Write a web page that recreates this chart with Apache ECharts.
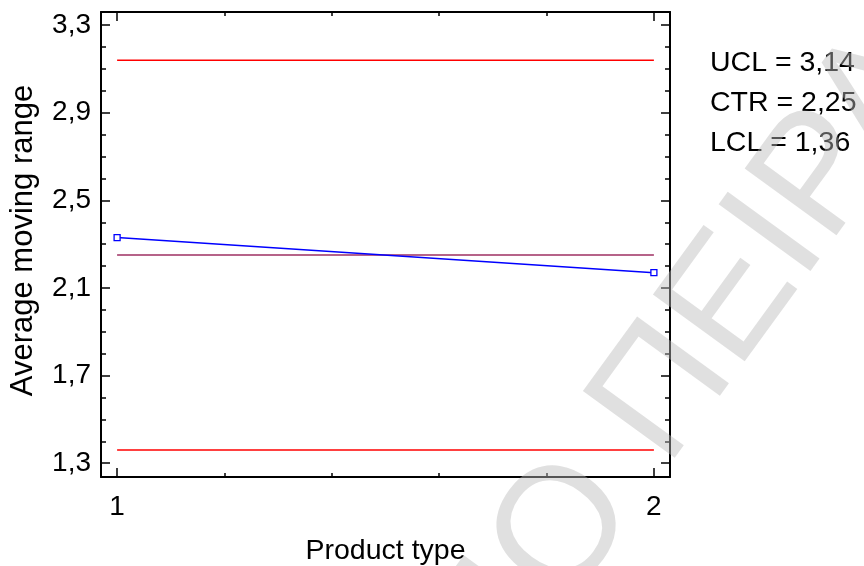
<!DOCTYPE html>
<html>
<head>
<meta charset="utf-8">
<script src="https://cdn.jsdelivr.net/npm/echarts@6/dist/echarts.min.js"></script>
<style>
  html, body { margin: 0; padding: 0; background: #fff; }
  #chart { width: 864px; height: 566px; }
</style>
</head>
<body>
<div id="chart"></div>
<script>
// Product types on the x axis and their average moving ranges
const productTypes = [1, 2];
const avgMovingRange = [2.33, 2.17];

// Control limits
const limitNames = ['UCL', 'CTR', 'LCL'];
const limitValues = [3.14, 2.25, 1.36];

// Tick labels
const xTickLabels = [1, 2];
const yTickLabels = [1.3, 1.7, 2.1, 2.5, 2.9, 3.3];

const FONT = '"Liberation Sans", Arial, sans-serif';
const fmt = v => v.toFixed(2).replace('.', ',');

// minor tick positions between the labelled ticks
const xMinor = [];
for (let i = 1; i < 5; i++) xMinor.push(+(1 + i * 0.2).toFixed(2));
const yMinor = [];
for (let v = 1.3; v < 3.35; v += 0.1) {
  const r = +v.toFixed(2);
  if (!yTickLabels.some(t => Math.abs(t - r) < 1e-6)) yMinor.push(r);
}

const X_MIN = 0.97, X_MAX = 2.03, Y_MIN = 1.237, Y_MAX = 3.36;
const gridBox = { left: 101, right: 194, top: 12, bottom: 89, containLabel: false, outerBoundsMode: 'none' };

const lineStyleAxis = { color: '#000', width: 2 };

function xAx(grid, pos, ticks, len, showLine, showLabels, extra) {
  return Object.assign({
    type: 'value', gridIndex: grid, position: pos, min: X_MIN, max: X_MAX,
    axisLine: { show: showLine, onZero: false, lineStyle: lineStyleAxis },
    axisTick: { show: true, inside: true, length: len, customValues: ticks, lineStyle: { color: '#000', width: 1.5 } },
    axisLabel: showLabels
      ? { show: true, customValues: xTickLabels, margin: 16, color: '#000', fontFamily: FONT, fontSize: 28, formatter: v => String(v) }
      : { show: false },
    splitLine: { show: false }
  }, extra || {});
}
function yAx(grid, pos, ticks, len, showLine, showLabels, extra) {
  return Object.assign({
    type: 'value', gridIndex: grid, position: pos, min: Y_MIN, max: Y_MAX,
    axisLine: { show: showLine, onZero: false, lineStyle: lineStyleAxis },
    axisTick: { show: true, inside: true, length: len, customValues: ticks, lineStyle: { color: '#000', width: 1.5 } },
    axisLabel: showLabels
      ? { show: true, customValues: yTickLabels, margin: 10, color: '#000', fontFamily: FONT, fontSize: 28, formatter: v => v.toFixed(1).replace('.', ',') }
      : { show: false },
    splitLine: { show: false }
  }, extra || {});
}

const controlSeries = limitValues.map((v, i) => ({
  type: 'line', xAxisIndex: 0, yAxisIndex: 0, silent: true,
  symbol: 'none', z: 2,
  lineStyle: { color: limitNames[i] === 'CTR' ? '#9E2F62' : '#FF0000', width: 1.5 },
  data: [[productTypes[0], v], [productTypes[productTypes.length - 1], v]]
}));

// watermark placement: diagonal text rising to the upper right
const WM_ANGLE = 54 * Math.PI / 180;
const WM_X = 630, WM_Y = 442;
const WM_STYLE = { fill: 'rgba(187,187,187,0.45)', font: '165px "Liberation Sans", Arial, sans-serif', textVerticalAlign: 'middle' };

const chart = echarts.init(document.getElementById('chart'), null, { renderer: 'canvas' });
chart.setOption({
  animation: false,
  backgroundColor: '#fff',
  grid: [Object.assign({}, gridBox), Object.assign({}, gridBox)],
  xAxis: [
    xAx(0, 'bottom', xTickLabels, 9, true, true, {
      name: 'Product type', nameLocation: 'middle', nameGap: 60,
      nameTextStyle: { color: '#000', fontFamily: FONT, fontSize: 28.5 }
    }),
    xAx(0, 'top', xTickLabels, 9, true, false),
    xAx(1, 'bottom', xMinor, 4, false, false),
    xAx(1, 'top', xMinor, 4, false, false)
  ],
  yAxis: [
    yAx(0, 'left', yTickLabels, 9, true, true, {
      name: 'Average moving range', nameLocation: 'middle', nameGap: 62, nameRotate: 90,
      nameTextStyle: { color: '#000', fontFamily: FONT, fontSize: 31, padding: [0, 0, 0, 8] }
    }),
    yAx(0, 'right', yTickLabels, 9, true, false),
    yAx(1, 'left', yMinor, 5, false, false),
    yAx(1, 'right', yMinor, 5, false, false)
  ],
  series: controlSeries.concat([{
    type: 'line', xAxisIndex: 0, yAxisIndex: 0, z: 3,
    symbol: 'rect', symbolSize: 6, showSymbol: true,
    itemStyle: { color: '#fff', borderColor: '#0000FF', borderWidth: 1.3 },
    lineStyle: { color: '#0000FF', width: 1.5 },
    data: productTypes.map((x, i) => [x, avgMovingRange[i]])
  }]),
  graphic: limitNames.map((n, i) => ({
    type: 'text', left: 710, top: 49 + i * 40, silent: true,
    style: { text: n + ' = ' + fmt(limitValues[i]), fill: '#000', font: '28.5px ' + FONT }
  })).concat([
    {
      type: 'text', x: WM_X, y: WM_Y, rotation: WM_ANGLE, silent: true, z: 100,
      style: Object.assign({ text: 'ΠΕΙΡΑΙΩΣ', textAlign: 'left' }, WM_STYLE)
    },
    {
      type: 'text', x: WM_X, y: WM_Y, rotation: WM_ANGLE, silent: true, z: 100,
      style: Object.assign({ text: 'ΠΑΝΕΠΙΣΤΗΜΙΟ ', textAlign: 'right' }, WM_STYLE)
    }
  ])
});
</script>
</body>
</html>
